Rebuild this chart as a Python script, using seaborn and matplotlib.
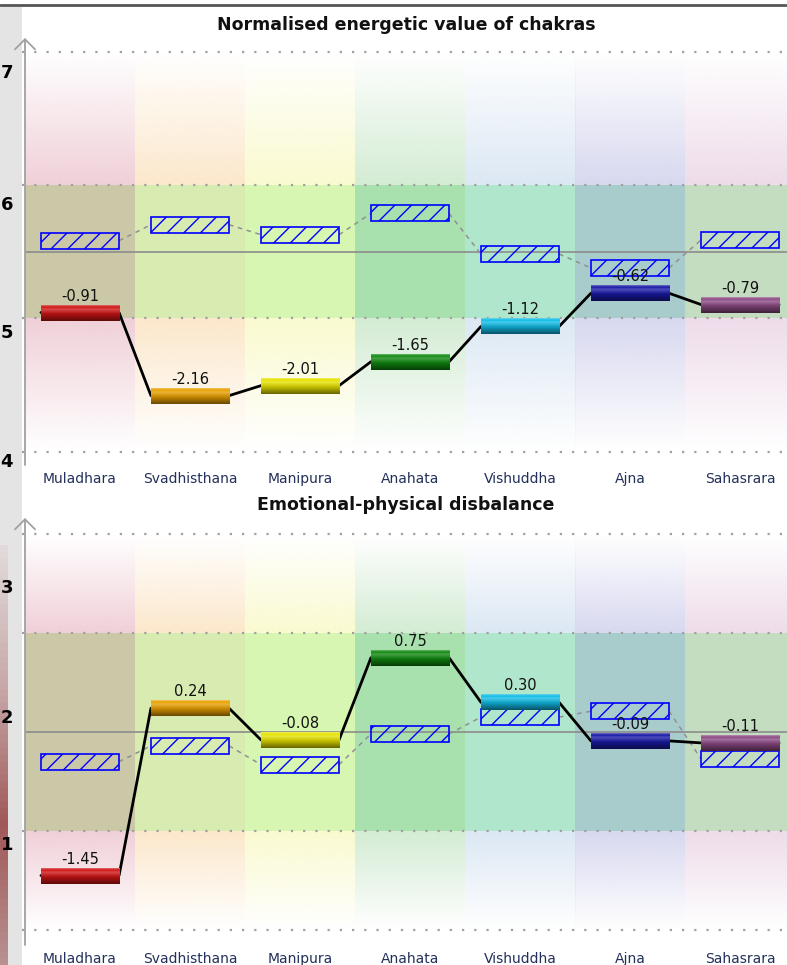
import numpy as np
import pandas as pd
import seaborn as sns
import matplotlib.pyplot as plt
from matplotlib.colors import to_rgb, LinearSegmentedColormap
from matplotlib.patches import Rectangle
from matplotlib.lines import Line2D

chakras = ['Muladhara', 'Svadhisthana', 'Manipura', 'Anahata', 'Vishuddha', 'Ajna', 'Sahasrara']
energy = [-0.91, -2.16, -2.01, -1.65, -1.12, -0.62, -0.79]
energy_ref = [0.17, 0.41, 0.26, 0.58, -0.03, -0.24, 0.18]
disbalance = [-1.45, 0.24, -0.08, 0.75, 0.30, -0.09, -0.11]
disbalance_ref = [-0.30, -0.14, -0.33, -0.02, 0.15, 0.21, -0.27]

bar_colors = ['#d01515', '#e9a000', '#e6e200', '#118a11', '#12bce6', '#1a1aa8', '#8c4a84']
zone_colors = ['#f0d0d8', '#fce8cc', '#fafad0', '#d4ecd4', '#dce8f4', '#d8d8f0', '#eedcea']
mid_colors = ['#cbc8a8', '#d8ebb0', '#d6f6b2', '#a8e0ae', '#b0e6cc', '#a8cccb', '#c4dcc0']

W, H = 787, 965
sns.set_theme(style='white')
plt.rcParams['font.family'] = ['DejaVu Sans']
plt.rcParams['hatch.linewidth'] = 1.0

fig = plt.figure(figsize=(W / 100, H / 100), dpi=100)
fig.patch.set_facecolor('white')


def bar_cmap(c):
    c = np.array(to_rgb(c))
    dark = c * 0.45
    return LinearSegmentedColormap.from_list('', [(0, dark), (0.45, c * 0.85), (0.75, c + (1 - c) * 0.22),
                                                  (0.88, c), (1, c + (1 - c) * 0.35)])


def draw_panel(ax, values, refs, outer, ylim, title, title_y):
    values = np.array(values)
    refs = np.array(refs)
    ax.set_facecolor('white')
    ax_h = ax.get_position().height * H
    ppu = ax_h / (ylim[1] - ylim[0])
    bh = 16 / ppu
    bw = 0.71

    # coloured zones behind each chakra
    for i, (zc, mc) in enumerate(zip(zone_colors, mid_colors)):
        ax.add_patch(Rectangle((i - 0.5, -1), 1, 2, color=mc, lw=0, zorder=0))
        grad = np.zeros((64, 1, 4))
        grad[..., :3] = to_rgb(zc)
        grad[:, 0, 3] = np.linspace(1, 0, 64)
        ax.imshow(grad, extent=(i - 0.5, i + 0.5, 1, outer), origin='lower',
                  aspect='auto', zorder=0, interpolation='bilinear')
        ax.imshow(grad[::-1], extent=(i - 0.5, i + 0.5, -outer, -1), origin='lower',
                  aspect='auto', zorder=0, interpolation='bilinear')

    for g in (-outer, -1, 1, outer):
        ax.axhline(g, color='#a0a0a0', lw=1.6, ls=(0, (1, 4.5)), xmin=-0.004,
                   clip_on=False, zorder=1)
    ax.axhline(0, color='#8c8c8c', lw=1.2, zorder=1.5)

    # reference (hatched) series
    x = np.arange(len(chakras))
    ax.bar(x, bh, bottom=refs - bh / 2, width=bw, facecolor='none',
           edgecolor='#0000ff', hatch='//', lw=1.2, zorder=3)
    for i in range(len(x) - 1):
        ax.plot([i + bw / 2, i + 1 - bw / 2], [refs[i], refs[i + 1]], color='#909090',
                lw=1.1, ls=(0, (3, 3)), zorder=2.5)

    # main series connecting line
    xs, ys = [], []
    for i, v in enumerate(values):
        xs += [i - bw / 2, i + bw / 2]
        ys += [v, v]
    df = pd.DataFrame({'x': xs, 'y': ys})
    sns.lineplot(data=df, x='x', y='y', sort=False, estimator=None, color='black',
                 lw=2, ax=ax, zorder=3.5)

    bars = ax.bar(x, bh, bottom=values - bh / 2, width=bw, color=bar_colors, lw=0, zorder=4)
    grad = np.linspace(0, 1, 48).reshape(-1, 1)
    for i, p in enumerate(bars.patches):
        im = ax.imshow(grad, cmap=bar_cmap(bar_colors[i]), origin='lower', aspect='auto',
                       extent=(p.get_x(), p.get_x() + p.get_width(), p.get_y(),
                               p.get_y() + p.get_height()), zorder=4.1)
        im.set_clip_path(p)
        ax.text(i, values[i] + bh / 2 + 1 / ppu, f'{values[i]:.2f}',
                ha='center', va='bottom', fontsize=10.5, color='#111111', zorder=6)

    ax.set_xlim(-0.5, -0.5 + (W - 25) / 110)
    ax.set_ylim(*ylim)
    ax.set_xticks(x)
    ax.set_xticklabels(chakras, color='#22305a', fontsize=10)
    ax.tick_params(axis='x', length=0, pad=5)
    ax.set_yticks([])
    ax.set_xlabel('')
    ax.set_ylabel('')
    for s in ax.spines.values():
        s.set_visible(False)
    ax.annotate('', xy=(0, 1), xytext=(0, 0), xycoords='axes fraction',
                arrowprops=dict(arrowstyle='->, head_length=0.6, head_width=0.6',
                                color='#a0a0a0', lw=1.3, shrinkA=0, shrinkB=0))
    fig.text(406 / W, 1 - title_y / H, title, ha='center', va='center',
             fontsize=12.5, fontweight='bold', color='#111111')


# left strip of the window behind
fig.add_artist(Rectangle((0, 0), 22 / W, 1 - 7 / H, transform=fig.transFigure,
                         color='#e4e4e4', lw=0, zorder=-10))
fig.add_artist(Line2D([0, 1], [1 - 5 / H] * 2, color='#555555', lw=2))
sax = fig.add_axes([0, 0, 8 / W, 420 / H])
strip = LinearSegmentedColormap.from_list('', ['#b89090', '#a05858', '#c8a8a8', '#e2dada'])
sax.imshow(np.linspace(0, 1, 64).reshape(-1, 1), cmap=strip, origin='lower', aspect='auto')
sax.axis('off')
for lab, yp in [('7', 73), ('6', 205), ('5', 333), ('4', 462), ('3', 588), ('2', 718), ('1', 845)]:
    fig.text(0.5 / W, 1 - yp / H, lab, fontsize=13, fontweight='bold', va='center',
             ha='left', color='black', zorder=20)

ax1 = fig.add_axes([25 / W, 1 - 465 / H, (W - 25) / W, 427 / H])
draw_panel(ax1, energy, energy_ref, 3, (-3.203, 3.218),
           'Normalised energetic value of chakras', 25)
ax2 = fig.add_axes([25 / W, 1 - 945 / H, (W - 25) / W, 427 / H])
draw_panel(ax2, disbalance, disbalance_ref, 2, (-2.152, 2.162),
           'Emotional-physical disbalance', 505)

fig.savefig('out.png', dpi=100)
